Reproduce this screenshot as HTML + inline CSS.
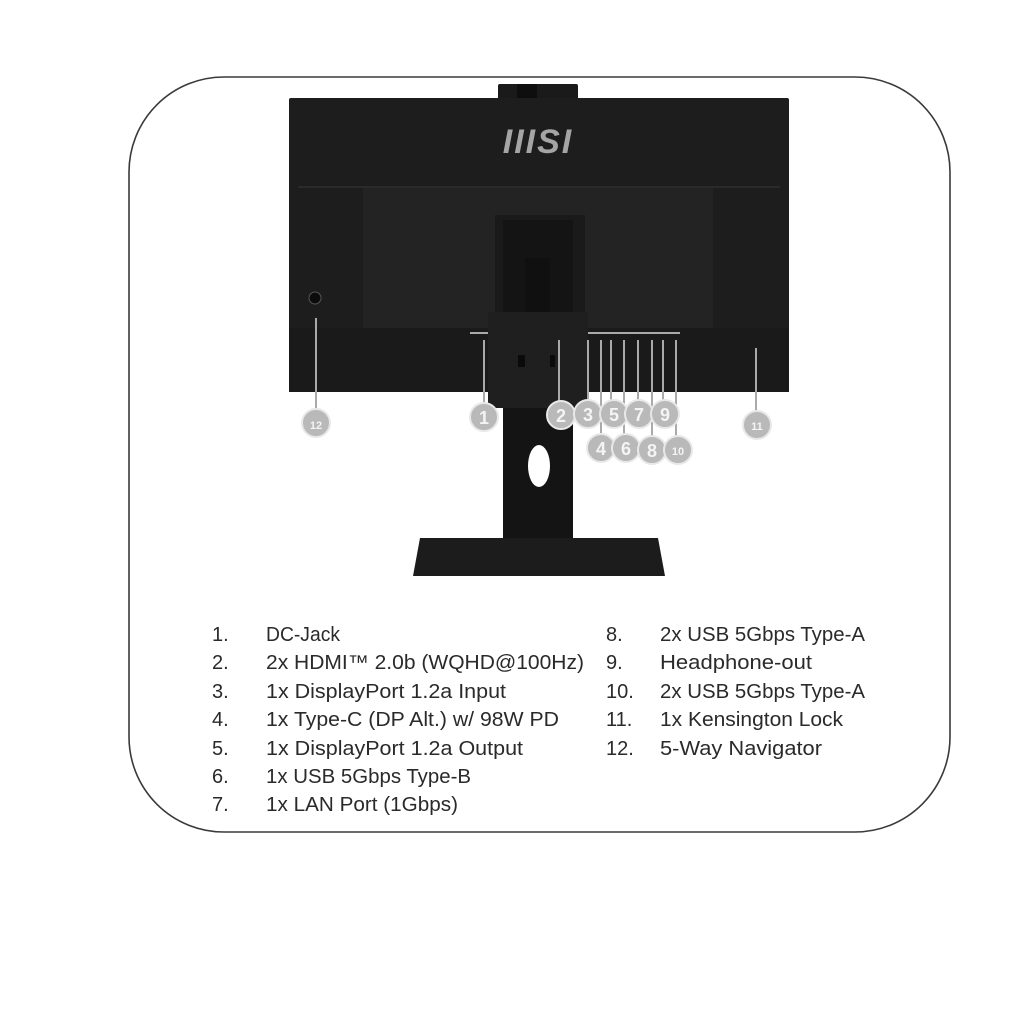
<!DOCTYPE html>
<html><head><meta charset="utf-8"><style>
html,body{margin:0;padding:0;background:#fff;}
svg{display:block;}
text{font-family:"Liberation Sans",sans-serif;}
</style></head><body>
<svg width="1024" height="1024" viewBox="0 0 1024 1024" xmlns="http://www.w3.org/2000/svg">
<rect x="0" y="0" width="1024" height="1024" fill="#fff"/>
<rect x="129" y="77" width="821" height="755" rx="95" ry="95" fill="none" stroke="#3a3a3a" stroke-width="1.6"/>
<rect x="498" y="84" width="80" height="16" rx="2" fill="#1a1a1a"/>
<rect x="517" y="84" width="20" height="14" fill="#0e0e0e"/>
<rect x="289" y="98" width="500" height="294" rx="2" fill="#1d1d1d"/>
<rect x="363" y="188" width="350" height="140" fill="#232323"/>
<rect x="298" y="186" width="482" height="2" fill="#2a2a2a"/>
<rect x="289" y="328" width="500" height="64" fill="#1a1a1a"/>
<text x="538" y="153" text-anchor="middle" font-size="34" font-weight="bold" font-style="italic" fill="#a5a5a5" letter-spacing="2">IIISI</text>
<rect x="495" y="215" width="90" height="115" fill="#1a1a1a"/>
<rect x="503" y="220" width="70" height="340" fill="#141414"/>
<rect x="525" y="258" width="25" height="70" fill="#101010"/>
<ellipse cx="539" cy="466" rx="11" ry="21" fill="#fff"/>
<polygon points="420,538 658,538 665,576 413,576" fill="#1c1c1c"/>
<rect x="488" y="312" width="100" height="96" fill="#1f1f1f"/>
<rect x="518" y="355" width="7" height="12" fill="#0a0a0a"/>
<rect x="550" y="355" width="5" height="12" fill="#0a0a0a"/>
<circle cx="315" cy="298" r="6" fill="#0c0c0c" stroke="#555" stroke-width="1"/>
<g stroke="#aaa" stroke-width="2">
<line x1="316" y1="318" x2="316" y2="410"/>
<line x1="470" y1="333" x2="488" y2="333"/>
<line x1="484" y1="340" x2="484" y2="405"/>
<line x1="559" y1="340" x2="559" y2="402"/>
<line x1="588" y1="333" x2="680" y2="333"/>
<line x1="588" y1="340" x2="588" y2="402"/>
<line x1="601" y1="340" x2="601" y2="436"/>
<line x1="611" y1="340" x2="611" y2="402"/>
<line x1="624" y1="340" x2="624" y2="436"/>
<line x1="638" y1="340" x2="638" y2="402"/>
<line x1="652" y1="340" x2="652" y2="438"/>
<line x1="663" y1="340" x2="663" y2="402"/>
<line x1="676" y1="340" x2="676" y2="438"/>
<line x1="756" y1="348" x2="756" y2="412"/>
</g>
<g fill="#b9b9b9" stroke="#e8e8e8" stroke-width="2">
<circle cx="316" cy="423" r="14"/>
<circle cx="484" cy="417" r="14"/>
<circle cx="561" cy="415" r="14"/>
<circle cx="588" cy="414" r="14"/>
<circle cx="614" cy="414" r="14"/>
<circle cx="639" cy="414" r="14"/>
<circle cx="665" cy="414" r="14"/>
<circle cx="601" cy="448" r="14"/>
<circle cx="626" cy="448" r="14"/>
<circle cx="652" cy="450" r="14"/>
<circle cx="678" cy="450" r="14"/>
<circle cx="757" cy="425" r="14"/>
</g>
<g fill="#f4f4f4" font-size="18" text-anchor="middle" font-weight="bold">
<text x="316" y="429" font-size="11">12</text>
<text x="484" y="424">1</text>
<text x="561" y="422">2</text>
<text x="588" y="421">3</text>
<text x="614" y="421">5</text>
<text x="639" y="421">7</text>
<text x="665" y="421">9</text>
<text x="601" y="455">4</text>
<text x="626" y="455">6</text>
<text x="652" y="457">8</text>
<text x="678" y="455" font-size="11">10</text>
<text x="757" y="430" font-size="11">11</text>
</g>
<g fill="#2a2a2a" font-size="20">
<text x="212" y="641">1.</text><text x="266" y="641" textLength="74" lengthAdjust="spacingAndGlyphs">DC-Jack</text>
<text x="212" y="669">2.</text><text x="266" y="669" textLength="318" lengthAdjust="spacingAndGlyphs">2x HDMI™ 2.0b (WQHD@100Hz)</text>
<text x="212" y="698">3.</text><text x="266" y="698" textLength="240" lengthAdjust="spacingAndGlyphs">1x DisplayPort 1.2a Input</text>
<text x="212" y="726">4.</text><text x="266" y="726" textLength="293" lengthAdjust="spacingAndGlyphs">1x Type-C (DP Alt.) w/ 98W PD</text>
<text x="212" y="755">5.</text><text x="266" y="755" textLength="257" lengthAdjust="spacingAndGlyphs">1x DisplayPort 1.2a Output</text>
<text x="212" y="783">6.</text><text x="266" y="783" textLength="205" lengthAdjust="spacingAndGlyphs">1x USB 5Gbps Type-B</text>
<text x="212" y="811">7.</text><text x="266" y="811" textLength="192" lengthAdjust="spacingAndGlyphs">1x LAN Port (1Gbps)</text>
<text x="606" y="641">8.</text><text x="660" y="641" textLength="205" lengthAdjust="spacingAndGlyphs">2x USB 5Gbps Type-A</text>
<text x="606" y="669">9.</text><text x="660" y="669" textLength="152" lengthAdjust="spacingAndGlyphs">Headphone-out</text>
<text x="606" y="698">10.</text><text x="660" y="698" textLength="205" lengthAdjust="spacingAndGlyphs">2x USB 5Gbps Type-A</text>
<text x="606" y="726">11.</text><text x="660" y="726" textLength="183" lengthAdjust="spacingAndGlyphs">1x Kensington Lock</text>
<text x="606" y="755">12.</text><text x="660" y="755" textLength="162" lengthAdjust="spacingAndGlyphs">5-Way Navigator</text>
</g>
</svg>
</body></html>
